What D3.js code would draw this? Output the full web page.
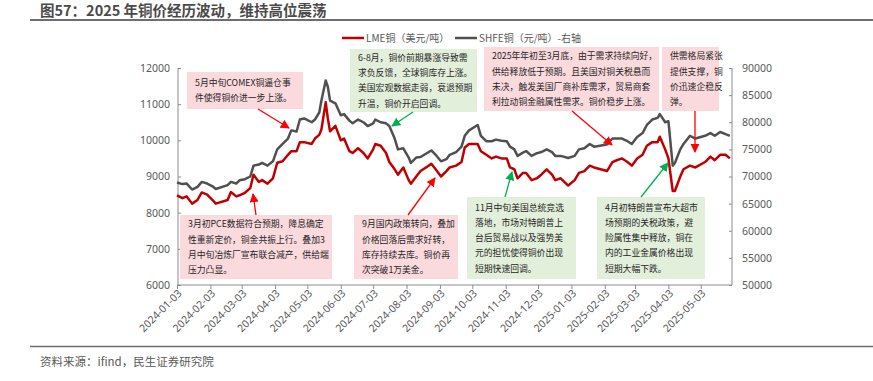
<!DOCTYPE html>
<html><head><meta charset="utf-8">
<script src="https://cdn.jsdelivr.net/npm/d3@7"></script>
<style>
body{margin:0;background:#fff;}
svg{display:block;font-family:"Noto Sans CJK SC","Noto Sans",sans-serif;}
</style></head>
<body>
<svg id="c" width="873" height="381"></svg>
<script>
const dates = ["2024-01-03","2024-01-08","2024-01-12","2024-01-17","2024-01-22","2024-01-26","2024-01-31","2024-02-05","2024-02-08","2024-02-19","2024-02-22","2024-02-27","2024-03-01","2024-03-06","2024-03-11","2024-03-14","2024-03-19","2024-03-22","2024-03-27","2024-04-01","2024-04-05","2024-04-10","2024-04-15","2024-04-18","2024-04-23","2024-04-26","2024-04-30","2024-05-07","2024-05-10","2024-05-14","2024-05-16","2024-05-20","2024-05-22","2024-05-24","2024-05-29","2024-06-03","2024-06-06","2024-06-11","2024-06-14","2024-06-19","2024-06-24","2024-06-28","2024-07-03","2024-07-05","2024-07-10","2024-07-15","2024-07-18","2024-07-23","2024-07-26","2024-07-31","2024-08-05","2024-08-07","2024-08-12","2024-08-16","2024-08-21","2024-08-26","2024-08-30","2024-09-04","2024-09-09","2024-09-12","2024-09-18","2024-09-23","2024-09-26","2024-09-30","2024-10-08","2024-10-11","2024-10-16","2024-10-21","2024-10-25","2024-10-30","2024-11-04","2024-11-07","2024-11-11","2024-11-14","2024-11-19","2024-11-22","2024-11-27","2024-12-02","2024-12-06","2024-12-11","2024-12-16","2024-12-19","2024-12-24","2024-12-31","2025-01-06","2025-01-10","2025-01-15","2025-01-20","2025-01-24","2025-02-05","2025-02-10","2025-02-14","2025-02-19","2025-02-24","2025-02-28","2025-03-05","2025-03-10","2025-03-14","2025-03-19","2025-03-24","2025-03-26","2025-03-31","2025-04-03","2025-04-07","2025-04-09","2025-04-14","2025-04-17","2025-04-23","2025-04-28","2025-05-07","2025-05-12","2025-05-16","2025-05-21","2025-05-26","2025-05-30"];
const lme = [8480,8400,8450,8250,8350,8560,8500,8350,8250,8350,8570,8450,8480,8550,8680,9050,8850,8900,8800,8950,9380,9420,9600,9700,9700,9950,9950,9900,10050,10150,10300,11050,10600,10250,10400,10000,10050,9700,9650,9780,9650,9500,9750,9900,9850,9650,9400,9200,9050,9250,8900,8800,9000,9150,9250,9350,9200,9000,9150,9250,9300,9400,9800,9900,9900,9700,9600,9500,9550,9500,9500,9250,9200,8950,9100,9100,8900,8950,9050,9200,9050,8900,8950,8750,8900,9100,9150,9300,9250,9150,9400,9450,9500,9400,9300,9500,9600,9850,9950,9950,10100,9750,9500,8600,8600,9000,9200,9300,9250,9400,9550,9450,9600,9600,9500];
const shfe = [68900,68600,68700,67600,68100,69000,68700,68200,67700,68400,69000,68700,69300,69500,70000,72000,72200,72500,72000,72800,75000,76000,77000,78500,78300,80500,80700,80000,80500,81800,84000,87700,86500,84000,83500,81300,81500,80300,79800,80500,80000,79300,79800,80500,80000,79800,79300,77000,75000,75200,73500,72500,73500,73600,74200,74800,74000,72800,73200,74000,74500,75500,77500,78500,79500,77500,76500,76500,76800,76600,76500,75500,75000,73800,74400,74700,73800,74300,74500,75000,74500,73800,73800,73400,73800,75000,75200,76000,75500,75900,77000,77000,77000,76500,76000,77300,78000,79500,80500,80800,81500,80000,80200,72000,72500,75000,76000,77500,77000,77500,78000,77500,78200,77800,77500];
const leftTicks = [6000,7000,8000,9000,10000,11000,12000];
const rightTicks = [50000,55000,60000,65000,70000,75000,80000,85000,90000];
const tickDates = ["2024-01-03","2024-02-03","2024-03-03","2024-04-03","2024-05-03","2024-06-03","2024-07-03","2024-08-03","2024-09-03","2024-10-03","2024-11-03","2024-12-03","2025-01-03","2025-02-03","2025-03-03","2025-04-03","2025-05-03"];
const seriesNames = ["LME铜（美元/吨）","SHFE铜（元/吨）-右轴"];
const titleText = "图57：2025 年铜价经历波动，维持高位震荡";
const sourceText = "资料来源：ifind，民生证券研究院";
const notes = [
  {lines:["5月中旬COMEX铜逼仓事","件使得铜价进一步上涨。"], kind:"pink", box:[187,72,116,37], arrow:[258,109,289,128]},
  {lines:["6-8月，铜价前期暴涨导致需","求负反馈，全球铜库存上涨。","美国宏观数据走弱，衰退预期","升温，铜价开启回调。"], kind:"green", box:[350,49,127,63], arrow:[413,112,392,126]},
  {lines:["2025年年初至3月底，由于需求持续向好，","供给释放低于预期。且美国对铜关税悬而","未决，触发美国厂商补库需求，贸易商套","利拉动铜金融属性需求。铜价稳步上涨。"], kind:"pink", box:[484,47,175,64], arrow:[572,111,612,145]},
  {lines:["供需格局紧张","提供支撑，铜","价迅速企稳反","弹。"], kind:"pink", box:[662,47,57,64], arrow:[695,111,695,152]},
  {lines:["3月初PCE数据符合预期，降息确定","性重新定价，铜金共振上行。叠加3","月中旬冶炼厂宣布联合减产，供给端","压力凸显。"], kind:"pink", box:[180,215,152,64], arrow:[256,215,253,194]},
  {lines:["9月国内政策转向，叠加","价格回落后需求好转，","库存持续去库。铜价再","次突破1万美金。"], kind:"pink", box:[354,215,104,64], arrow:[408,215,435,178]},
  {lines:["11月中旬美国总统竞选","落地，市场对特朗普上","台后贸易战以及强势美","元的担忧使得铜价出现","短期快速回调。"], kind:"green", box:[467,197,109,82], arrow:[505,197,512,172]},
  {lines:["4月初特朗普宣布大超市","场预期的关税政策，避","险属性集中释放，铜在","内的工业金属价格出现","短期大幅下跌。"], kind:"green", box:[597,197,108,82], arrow:[641,197,668,163]}
];

const svg = d3.select("#c");
const parse = d3.timeParse("%Y-%m-%d");
const fmt = d3.timeFormat("%Y-%m-%d");
const data = dates.map((d,i)=>({d:parse(d), a:lme[i], b:shfe[i]}));

const x = d3.scaleTime().domain([parse("2024-01-03"), parse("2025-06-01")]).range([177,732]);
const yL = d3.scaleLinear().domain([6000,12000]).range([285,68]);
const yR = d3.scaleLinear().domain([50000,90000]).range([285,68]);

svg.append("text").attr("x",40).attr("y",16).attr("font-size",14.5).attr("font-weight","bold").attr("fill","#4a4a4a").text(titleText);
svg.append("line").attr("x1",30).attr("x2",873).attr("y1",20).attr("y2",20).attr("stroke","#6e6e6e").attr("stroke-width",2);

svg.append("line").attr("x1",30).attr("x2",873).attr("y1",346.5).attr("y2",346.5).attr("stroke","#6e6e6e").attr("stroke-width",1.5);
svg.append("text").attr("x",40).attr("y",366).attr("font-size",11.5).attr("fill","#595959").text(sourceText);

const axCol = "#8c8c8c", lblCol = "#595959";
const gl = svg.append("g").attr("transform","translate(178,0)").call(d3.axisLeft(yL).tickValues(leftTicks).tickSize(-3).tickPadding(8).tickFormat(d3.format("d")));
const gr = svg.append("g").attr("transform","translate(732,0)").call(d3.axisRight(yR).tickValues(rightTicks).tickSize(-3).tickPadding(10).tickFormat(d3.format("d")));
const gx = svg.append("g").attr("transform","translate(0,285)").call(d3.axisBottom(x).tickValues(tickDates.map(parse)).tickSize(4).tickFormat(fmt));
[gl,gr,gx].forEach(g=>{
  g.select(".domain").attr("stroke",axCol);
  g.selectAll(".tick line").attr("stroke",axCol);
  g.selectAll(".tick text").attr("fill",lblCol).attr("font-size",10.5).attr("font-family","'Noto Sans','DejaVu Sans',sans-serif");
});
gx.select(".domain").attr("d","M177,0H732");
gx.selectAll(".tick text").attr("text-anchor","end").attr("dy",0).attr("y",0)
  .attr("transform","translate(5,9) rotate(-45)");
gl.select(".domain").attr("d","M0,68V285");
gr.select(".domain").attr("d","M0,68V285");

const lineA = d3.line().x(d=>x(d.d)).y(d=>yL(d.a));
const lineB = d3.line().x(d=>x(d.d)).y(d=>yR(d.b));
svg.append("path").datum(data).attr("d",lineB).attr("fill","none").attr("stroke","#505050").attr("stroke-width",2.5).attr("stroke-linejoin","round");
svg.append("path").datum(data).attr("d",lineA).attr("fill","none").attr("stroke","#c00000").attr("stroke-width",2.5).attr("stroke-linejoin","round");

const leg = svg.append("g");
[[342,"#c00000",seriesNames[0]],[455,"#505050",seriesNames[1]]].forEach(([lx,c,t])=>{
  leg.append("line").attr("x1",lx).attr("x2",lx+22).attr("y1",38).attr("y2",38).attr("stroke",c).attr("stroke-width",2.5);
  leg.append("text").attr("x",lx+24).attr("y",41.5).attr("font-size",10).attr("fill","#595959").text(t);
});

const defs = svg.append("defs");
[["r","#ff0000"],["g","#00b050"]].forEach(([id,c])=>{
  defs.append("marker").attr("id","m"+id).attr("viewBox","0 0 10 10").attr("refX",9).attr("refY",5)
    .attr("markerWidth",7).attr("markerHeight",7).attr("orient","auto-start-reverse")
    .append("path").attr("d","M0,0L10,5L0,10z").attr("fill",c);
});

notes.forEach(n=>{
  const [bx,by,bw,bh] = n.box;
  svg.append("rect").attr("x",bx).attr("y",by).attr("width",bw).attr("height",bh)
    .attr("fill", n.kind==="pink" ? "#fadadd" : "#e2efda");
  const lh = 15.2;
  const startY = by + bh/2 - (n.lines.length-1)*lh/2 + 3.2;
  n.lines.forEach((l,i)=>{
    svg.append("text").attr("x",bx+8).attr("y",startY+i*lh).attr("font-size",8.8).attr("fill","#262626").text(l);
  });
  const [x1,y1,x2,y2] = n.arrow;
  svg.append("line").attr("x1",x1).attr("y1",y1).attr("x2",x2).attr("y2",y2)
    .attr("stroke", n.kind==="pink" ? "#ff0000" : "#00b050").attr("stroke-width",1.3)
    .attr("marker-end", n.kind==="pink" ? "url(#mr)" : "url(#mg)");
});
</script>
</body></html>
